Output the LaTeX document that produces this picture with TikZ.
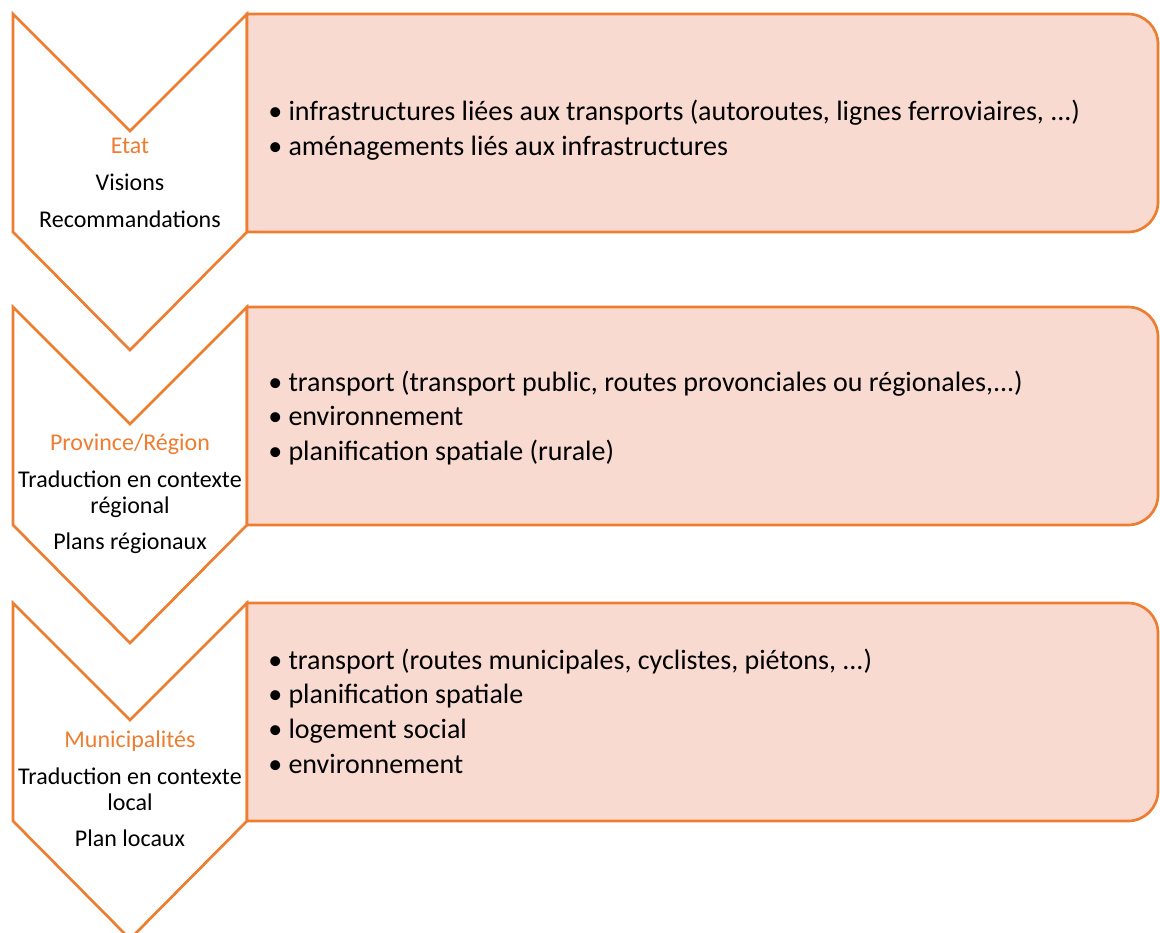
\documentclass[tikz,border=0pt]{standalone}
\usepackage{fontspec}
\setmainfont{Carlito}
\usetikzlibrary{positioning}
\definecolor{accent}{HTML}{ED7D31}
\definecolor{lightaccent}{HTML}{F8DAD0}

\begin{document}
\begin{tikzpicture}[x=0.75pt,y=-0.75pt,
   chevron/.style={draw=accent,line width=2pt,fill=white,line join=miter},
   panel/.style={draw=accent,line width=2pt,fill=lightaccent},
   level/.style={align=center,font=\fontsize{18}{19.5}\selectfont,inner sep=0pt},
   items/.style={align=left,anchor=west,font=\fontsize{21}{26}\selectfont,inner sep=0pt}]
   \useasboundingbox (0,0) rectangle (1160,932);
   % chevrons
   \draw[chevron] (13,14) -- (130,131) -- (247,14) -- (247,232) -- (130,350) -- (13,232) -- cycle;
   \draw[chevron] (13,307) -- (130,424) -- (247,307) -- (247,525) -- (130,643) -- (13,525) -- cycle;
   \draw[chevron] (13,603) -- (130,720) -- (247,603) -- (247,821) -- (130,939) -- (13,821) -- cycle;
   % panels
   \draw[panel] (247,14) -- (1128,14) arc(-90:0:30) -- (1158,202) arc(0:90:30) -- (247,232) -- cycle;
   \draw[panel] (247,307) -- (1128,307) arc(-90:0:30) -- (1158,495) arc(0:90:30) -- (247,525) -- cycle;
   \draw[panel] (247,603) -- (1128,603) arc(-90:0:30) -- (1158,791) arc(0:90:30) -- (247,821) -- cycle;
   % labels
   \node[level] (etat) at (130,183) {\textcolor{accent}{Etat}\\[8pt] Visions\\[8pt] Recommandations};
   \node[level] (prov) at (130,494) {\textcolor{accent}{Province/Région}\\[8pt] Traduction en contexte\\ régional\\[8pt] Plans régionaux};
   \node[level] (muni) at (130,789) {\textcolor{accent}{Municipalités}\\[8pt] Traduction en contexte\\ local\\[8pt] Plan locaux};
   \node[items] (etatlist) at (268,130) {• infrastructures liées aux transports (autoroutes, lignes ferroviaires, ...)\\ • aménagements liés aux infrastructures};
   \node[items] (provlist) at (268,418) {• transport (transport public, routes provonciales ou régionales,...)\\ • environnement\\ • planification spatiale (rurale)};
   \node[items] (munilist) at (268,711) {• transport (routes municipales, cyclistes, piétons, ...)\\ • planification spatiale\\ • logement social\\ • environnement};
\end{tikzpicture}
\end{document}
